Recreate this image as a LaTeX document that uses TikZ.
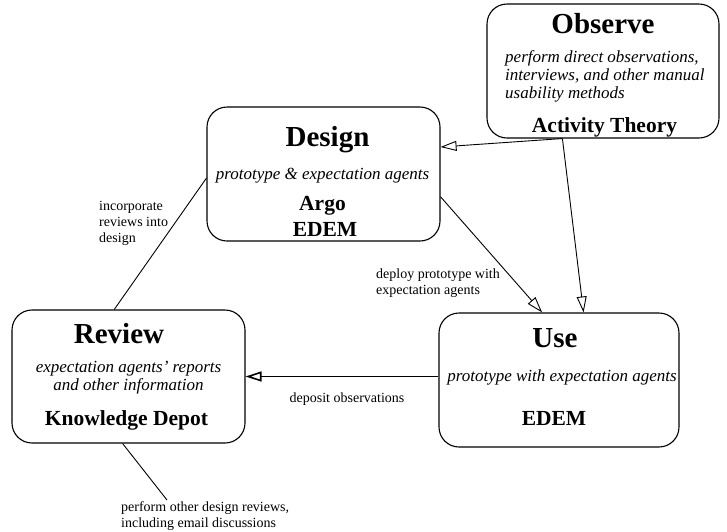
\documentclass[tikz,border=0pt]{standalone}
\usepackage{fontspec}
\setmainfont{Liberation Serif}
\usepackage{tikz}
\usetikzlibrary{arrows.meta,positioning,calc}

\tikzset{
  phase/.style={draw, line width=1.1pt, rounded corners=20pt, inner sep=0pt},
  title/.style={anchor=base, inner sep=0pt, font=\fontsize{29}{30}\selectfont\bfseries},
  tool/.style={anchor=base, inner sep=0pt, font=\fontsize{21.5}{23}\selectfont\bfseries},
  desc/.style={anchor=base, inner sep=0pt, font=\fontsize{17}{18}\selectfont\itshape},
  note/.style={anchor=base west, inner sep=0pt, align=left, font=\fontsize{14}{16}\selectfont},
  flow/.style={-{Triangle[open, length=16pt, width=10pt]}, line width=0.9pt}
}

\begin{document}
\begin{tikzpicture}[x=1pt, y=-1pt]
  \useasboundingbox (0,0) rectangle (727,531);

  % the four phases
  \node[phase, minimum width=232pt, minimum height=134pt] (obs) at (603,71) {};
  \node[phase, minimum width=233pt, minimum height=134pt] (design) at (323.5,174) {};
  \node[phase, minimum width=233pt, minimum height=133pt] (review) at (128.5,376.5) {};
  \node[phase, minimum width=240pt, minimum height=134pt] (use) at (559,380) {};

  % texts inside the boxes (multi-line: placed at last baseline)
  \node[title] (obsT) at (603,33) {Observe};
  \node[desc, anchor=base west, align=left] (obsD) at (505,98)
    {perform direct observations,\\interviews, and other manual\\usability methods};
  \node[tool] (obsA) at (604.5,132) {Activity Theory};

  \node[title] (designT) at (327.5,146) {Design};
  \node[desc] (designD) at (322.5,179) {prototype \& expectation agents};
  \node[tool] (designA) at (322.5,210) {Argo};
  \node[tool] (designB) at (325,236) {EDEM};

  \node[title] (reviewT) at (119,343) {Review};
  \node[desc, align=center] (reviewD) at (128.5,390)
    {expectation agents' reports\\and other information};
  \node[tool] (reviewA) at (126.5,425) {Knowledge Depot};

  \node[title] (useT) at (555,347) {Use};
  \node[desc] (useD) at (562,381) {prototype with expectation agents};
  \node[tool] (useA) at (554,425) {EDEM};

  % connectors
  \draw[flow] (obs.239) -- (design.13);
  \draw[flow] (obs.239) -- (use.70);
  \draw[flow] (design.-11) -- (use.104);
  \draw[flow, line width=1.6pt] (use.west |- review.east) -- (review.east);
  \draw[line width=0.9pt] (review.102) -- (design.182);
  \coordinate (noteTip) at (167,500);
  \draw[line width=0.9pt] (review.265) -- (noteTip);

  % labels
  \node[note] (incLbl) at (99,242) {incorporate\\reviews into\\design};
  \node[note] (depLbl) at (376,294) {deploy prototype with\\expectation agents};
  \node[note, anchor=base] (obsLbl) at (347,402) {deposit observations};
  \node[note] (revLbl) at (121,527) {perform other design reviews,\\including email discussions};
\end{tikzpicture}
\end{document}
